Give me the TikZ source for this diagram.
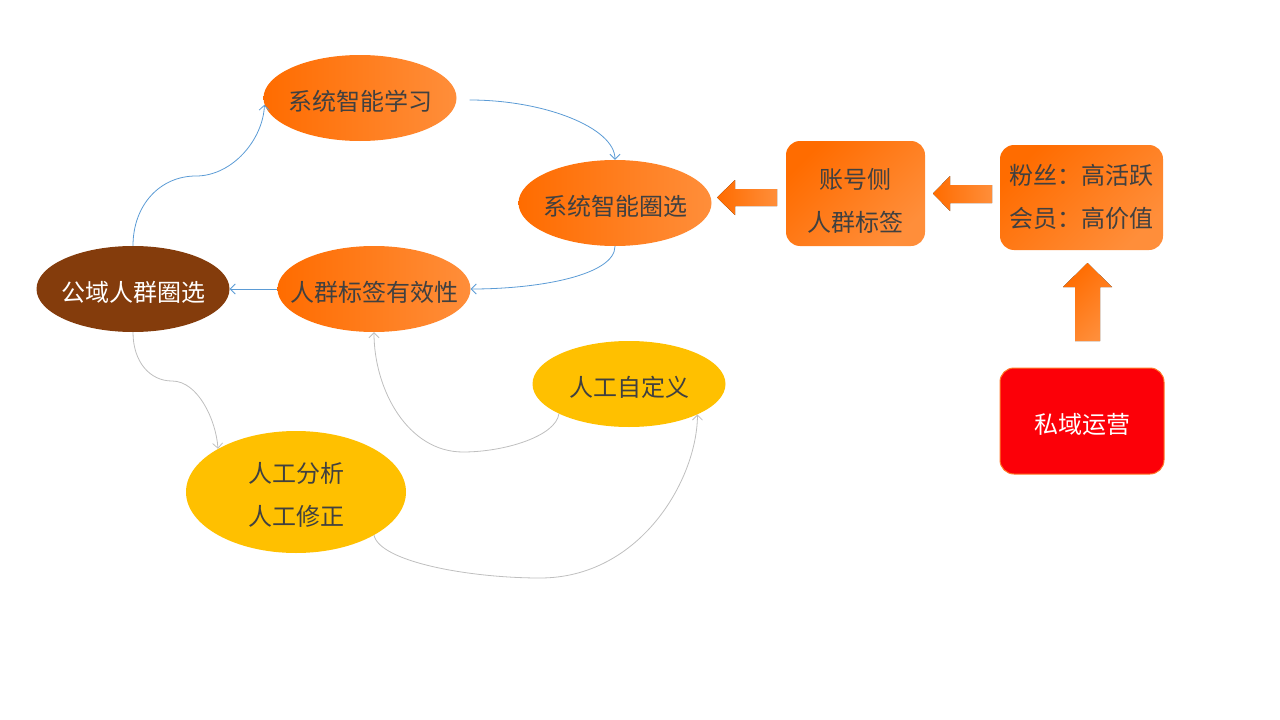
\documentclass[tikz,border=0pt]{standalone}
\usepackage{fontspec}
\setmainfont{Noto Sans CJK SC}
\usetikzlibrary{shapes.geometric,arrows.meta,calc}
\definecolor{txt}{RGB}{64,64,64}
\definecolor{orA}{RGB}{255,108,0}
\definecolor{orB}{RGB}{255,142,58}
\definecolor{cbrown}{RGB}{132,60,12}
\definecolor{cgold}{RGB}{255,192,0}
\definecolor{lblue}{RGB}{91,155,213}
\definecolor{lgray}{RGB}{191,191,191}
\definecolor{cred}{RGB}{252,0,8}
\definecolor{credline}{RGB}{255,120,40}
\newcommand{\zw}[2][-3.5pt]{\makebox[0pt]{\raisebox{#1}[\height][\depth]{#2}}}
\newcommand{\lw}[2][-3.5pt]{\raisebox{#1}[\height][\depth]{\begin{tabular}{@{}c@{}}#2\end{tabular}}}
\begin{document}
\begin{tikzpicture}[x=1pt,y=-1pt,
  ell/.style={ellipse, inner sep=0pt, minimum width=193pt, minimum height=86pt,
    text=txt, font=\fontsize{24}{43}\selectfont},
  oell/.style={ell, left color=orA, right color=orB},
  obox/.style={rectangle, rounded corners=14pt, inner sep=0pt, align=center,
    text=txt, font=\fontsize{24}{43}\selectfont,
    left color=orA, right color=orB, shading angle=45},
  bconn/.style={draw=lblue, line width=0.8pt, -{Straight Barb[length=5pt,width=10pt]}},
  gconn/.style={draw=lgray, line width=0.8pt, -{Straight Barb[length=5pt,width=10pt]}},
  barrow/.style={left color=orA, right color=orB}
]
\useasboundingbox (0,0) rectangle (1280,720);

% ellipses
\node[oell] (sl) at (360,98) {\zw{系统智能学习}};
\node[oell] (sc) at (615,203) {\zw{系统智能圈选}};
\node[oell] (rq) at (374,289) {\zw{人群标签有效性}};
\node[ell, fill=cbrown, text=white] (gy) at (133,289) {\zw{公域人群圈选}};
\node[ell, fill=cgold] (zd) at (629,384) {\zw{人工自定义}};
\node[ell, fill=cgold, minimum width=220pt, minimum height=122pt] (fx) at (296,492)
  {\zw{\begin{tabular}{@{}c@{}}人工分析\\人工修正\end{tabular}}};

% boxes
\node[obox, minimum width=139pt, minimum height=105pt] (zh) at (855.5,193.5) {\lw[-8pt]{账号侧\\人群标签}};
\node[obox, minimum width=163pt, minimum height=105pt] (fs) at (1081.5,197.5) {\lw[0pt]{粉丝：高活跃\\会员：高价值}};
\node[rectangle, rounded corners=14pt, inner sep=0pt, minimum width=164pt, minimum height=106pt,
  fill=cred, draw=credline, line width=1pt, text=white, font=\fontsize{24}{43}\selectfont]
  (sy) at (1082,421) {\lw{私域运营}};

% block arrows
\fill[barrow] (777,189) -- (735,189) -- (735,180) -- (717,197.5) -- (735,215) -- (735,206) -- (777,206) -- cycle;
\fill[barrow] (992,185) -- (950,185) -- (950,176) -- (933,193.5) -- (950,211) -- (950,203) -- (992,203) -- cycle;
\fill[left color=orA, right color=orB, shading angle=45] (1075,341) -- (1075,287) -- (1063,287) -- (1087.5,263) -- (1112,287) -- (1100,287) -- (1100,341) -- cycle;

% blue connectors
\coordinate (m1) at (196,176);
\draw[bconn] (gy.north) .. controls (133,205) and (160,176) .. (m1)
  .. controls (232,176) and (263,140) .. (sl.184);
\draw[bconn] ($(sl.east)+(13,2)$) .. controls (545,100) and (615,128) .. (sc.north);
\draw[bconn] (sc.south) .. controls (615,275) and (540,289) .. (rq.east);
\draw[bconn] (rq.west) -- (gy.east);

% gray connectors
\coordinate (m2) at (172,381);
\draw[gconn] (gy.south) .. controls (133,362) and (150,381) .. (m2)
  .. controls (198,381) and (216,420) .. (fx.151);
\coordinate (m3) at (463,452);
\draw[gconn] (zd.203) .. controls (556,436) and (505,452) .. (m3)
  .. controls (408,452) and (374,390) .. (rq.south);
\coordinate (m4) at (540,578);
\draw[gconn] (fx.331) .. controls (380,562) and (470,578) .. (m4)
  .. controls (640,578) and (697,480) .. (zd.336);
\end{tikzpicture}
\end{document}
